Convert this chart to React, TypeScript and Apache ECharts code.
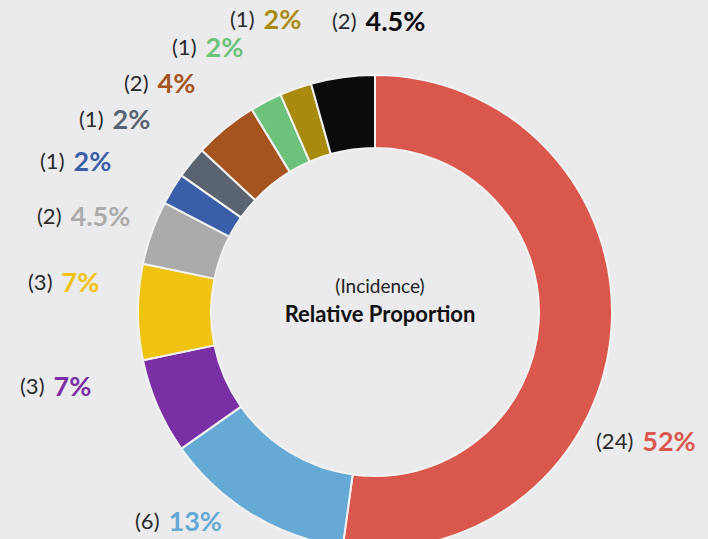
import React, { useEffect, useRef } from "react";
import * as echarts from "echarts";

const categories = ["Red", "Light blue", "Purple", "Yellow", "Gray", "Blue", "Dark gray", "Brown", "Green", "Olive", "Black"];
const counts = [24, 6, 3, 3, 2, 1, 1, 2, 1, 1, 2];
const percentLabels = ["52%", "13%", "7%", "7%", "4.5%", "2%", "2%", "4%", "2%", "2%", "4.5%"];
const colors = ["#d9574c", "#65a9d5", "#7a2fa5", "#efc30f", "#ababab", "#3b5ea8", "#5a6470", "#a5531f", "#6dc27b", "#a88b0c", "#0b0b0b"];
const labelAnchors: [number, number][] = [
  [596, 440], [135, 520], [20, 385], [28, 281], [37, 215], [40, 160], [79, 118], [124, 82], [172, 46], [230, 18], [332, 20],
];

const FONT = "Lato, 'Open Sans', sans-serif";

export default function App() {
  const ref = useRef<HTMLDivElement>(null);
  useEffect(() => {
    if (!ref.current) return;
    const chart = echarts.init(ref.current, undefined, { renderer: "svg" });
    const rich: Record<string, any> = {
      c: { fontSize: 22, color: "#2a2a2a", fontFamily: FONT, padding: [0, 9, 0, 0] },
    };
    colors.forEach((col, i) => {
      rich["p" + i] = { fontSize: 27, fontWeight: "bold", color: col, fontFamily: FONT };
    });
    chart.setOption({
      animation: false,
      backgroundColor: "#ebebed",
      graphic: [
        { type: "text", x: 380, y: 285, style: { text: "(Incidence)", fontSize: 19, fill: "#222", fontFamily: FONT, textAlign: "center", textVerticalAlign: "middle" } },
        { type: "text", x: 380, y: 313, style: { text: "Relative Proportion", fontSize: 22, fontWeight: "bold", fill: "#111", fontFamily: FONT, textAlign: "center", textVerticalAlign: "middle" } },
      ],
      series: [
        {
          type: "pie",
          center: [375, 312],
          radius: [164, 237],
          startAngle: 90,
          clockwise: true,
          avoidLabelOverlap: false,
          itemStyle: { borderColor: "#f2f2f2", borderWidth: 2 },
          label: {
            show: true,
            position: "outside",
            formatter: (p: any) => `{c|(${counts[p.dataIndex]})}{p${p.dataIndex}|${percentLabels[p.dataIndex]}}`,
            rich,
          },
          labelLine: { show: false },
          labelLayout: (params: any) => {
            const a = labelAnchors[params.dataIndex];
            return { x: a[0], y: a[1], align: "left", verticalAlign: "middle" };
          },
          emphasis: { disabled: true },
          data: categories.map((name, i) => ({ name, value: counts[i], itemStyle: { color: colors[i] } })),
        },
      ],
    });
    return () => chart.dispose();
  }, []);
  return <div ref={ref} style={{ position: "fixed", left: 0, top: 0, width: 708, height: 539 }} />;
}
